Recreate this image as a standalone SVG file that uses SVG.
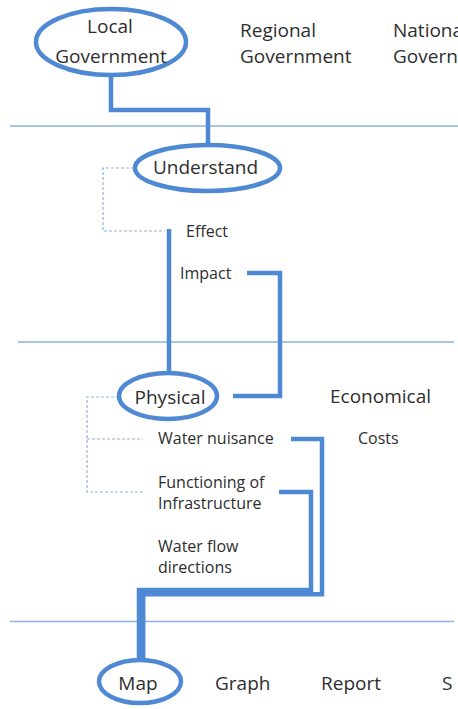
<svg xmlns="http://www.w3.org/2000/svg" width="458" height="709" viewBox="0 0 458 709">
<style>
  .t { font-family: "Open Sans", "Liberation Sans", sans-serif; fill: #2e2e2e; }
  .big { font-size: 19px; }
  .small { font-size: 16px; }
  .mid { text-anchor: middle; }
  .oval { fill: none; stroke: #4f88d3; stroke-width: 4.5; }
  .conn { fill: none; stroke: #4f88d3; stroke-width: 4.5; stroke-linejoin: miter; }
  .sep { stroke: #8db3e2; stroke-width: 1.5; }
  .dash { fill: none; stroke: #8db3e2; stroke-width: 1.2; stroke-dasharray: 3 2; }
</style>
<rect width="458" height="709" fill="#ffffff"/>

<g id="separators">
  <line class="sep" x1="10" y1="126" x2="458" y2="126"/>
  <line class="sep" x1="18" y1="342" x2="454" y2="342"/>
  <line class="sep" x1="10" y1="621.5" x2="454" y2="621.5"/>
</g>

<g id="connectors">
  <path class="conn" d="M111,75 V110 H208 V145"/>
  <path class="conn" d="M169,229 V373"/>
  <path class="conn" d="M247,273 H280 V396 H233"/>
  <path class="conn" d="M279,492 H311 V590 H139 V660"/>
  <path class="conn" d="M291,439 H322 V594.2 H143.2 V660"/>
  <path class="dash" d="M134,168 H103 V231 H165"/>
  <path class="dash" d="M119,397 H87 V492 H143"/>
  <path class="dash" d="M87,439 H143"/>
</g>

<g id="local-government">
  <ellipse class="oval" cx="111" cy="42" rx="75" ry="33"/>
  <text class="t big mid" x="110" y="33">Local</text>
  <text class="t big mid" x="111" y="63">Government</text>
</g>
<g id="regional-government">
  <text class="t big" x="240" y="37">Regional</text>
  <text class="t big" x="240" y="63">Government</text>
</g>
<g id="national-government">
  <text class="t big" x="393" y="37">National</text>
  <text class="t big" x="393" y="63">Government</text>
</g>

<g id="understand">
  <ellipse class="oval" cx="207.5" cy="168" rx="72.5" ry="23"/>
  <text class="t big mid" x="205.5" y="174">Understand</text>
</g>
<g id="effect">
  <text class="t small" x="186" y="237">Effect</text>
</g>
<g id="impact">
  <text class="t small" x="180" y="279">Impact</text>
</g>

<g id="physical">
  <ellipse class="oval" cx="168" cy="396" rx="49" ry="23"/>
  <text class="t big mid" x="170" y="404">Physical</text>
</g>
<g id="economical">
  <text class="t big" x="330" y="403">Economical</text>
</g>
<g id="water-nuisance">
  <text class="t small" x="158" y="444">Water nuisance</text>
</g>
<g id="costs">
  <text class="t small" x="358" y="444">Costs</text>
</g>
<g id="functioning">
  <text class="t small" x="158" y="488">Functioning of</text>
  <text class="t small" x="158" y="509">Infrastructure</text>
</g>
<g id="water-flow">
  <text class="t small" x="158" y="552">Water flow</text>
  <text class="t small" x="158" y="573">directions</text>
</g>

<g id="map">
  <ellipse class="oval" cx="140" cy="681.5" rx="41" ry="21.5"/>
  <text class="t big mid" x="138" y="690">Map</text>
</g>
<g id="graph">
  <text class="t big" x="215" y="690">Graph</text>
</g>
<g id="report">
  <text class="t big" x="321" y="690">Report</text>
</g>
<g id="s-item">
  <text class="t big" x="442" y="690">S</text>
</g>
</svg>
